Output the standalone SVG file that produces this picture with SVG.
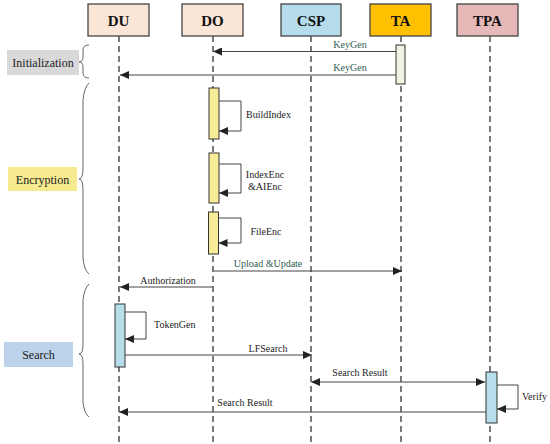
<svg xmlns="http://www.w3.org/2000/svg" width="550" height="444" viewBox="0 0 550 444">
<defs>
<marker id="ah" markerWidth="10" markerHeight="8" refX="9" refY="4" orient="auto" markerUnits="userSpaceOnUse">
<path d="M0,0 L9,4 L0,8 Z" fill="#222"/>
</marker>
<marker id="ahs" markerWidth="10" markerHeight="8" refX="1" refY="4" orient="auto" markerUnits="userSpaceOnUse">
<path d="M9,0 L0,4 L9,8 Z" fill="#222"/>
</marker>
</defs>
<style>
.hd{stroke:#444;stroke-width:1.3}
.ht{font-family:"Liberation Serif",serif;font-weight:bold;font-size:15px;text-anchor:middle;fill:#111}
.life{stroke:#222;stroke-width:1.2;stroke-dasharray:6,4;fill:none}
.msg{stroke:#444;stroke-width:1;fill:none}
.lbl{font-family:"Liberation Serif",serif;font-size:10px;fill:#222}
.glbl{font-family:"Liberation Serif",serif;font-size:10px;fill:#2e5e50;text-anchor:middle}
.sec{font-family:"Liberation Serif",serif;font-size:12px;fill:#222;text-anchor:middle}
.brace{stroke:#666;stroke-width:1;fill:none}
.act{stroke:#333;stroke-width:1}
</style>
<rect width="550" height="444" fill="#fff"/>

<g id="lifelines">
<line class="life" x1="119" y1="36" x2="119" y2="442"/>
<line class="life" x1="213" y1="36" x2="213" y2="442"/>
<line class="life" x1="311" y1="36" x2="311" y2="442"/>
<line class="life" x1="401" y1="36" x2="401" y2="442"/>
<line class="life" x1="490" y1="36" x2="490" y2="442"/>
</g>

<g id="DU"><rect class="hd" x="88" y="4" width="61" height="32" fill="#fbe5d6"/><text class="ht" x="118.5" y="25.5">DU</text></g>
<g id="DO"><rect class="hd" x="182" y="4" width="61" height="32" fill="#fbe5d6"/><text class="ht" x="212.5" y="25.5">DO</text></g>
<g id="CSP"><rect class="hd" x="281" y="4" width="60" height="32" fill="#b4dcea"/><text class="ht" x="311" y="25.5">CSP</text></g>
<g id="TA"><rect class="hd" x="370" y="4" width="61" height="32" fill="#ffc000"/><text class="ht" x="400.5" y="25.5">TA</text></g>
<g id="TPA"><rect class="hd" x="457" y="4" width="61" height="32" fill="#e6b9b8"/><text class="ht" x="487.5" y="25.5">TPA</text></g>

<g id="sections">
<g id="initialization">
<rect x="7" y="50" width="72" height="25" fill="#d9d9d9"/>
<text class="sec" x="43" y="66.5">Initialization</text>
<path class="brace" d="M89,45 Q83,45 83,50 L83,57 Q83,62 79,62 Q83,62 83,67 L83,73 Q83,78 89,78"/>
</g>
<g id="encryption">
<rect x="8" y="167" width="69" height="24" fill="#f6ea8f"/>
<text class="sec" x="42.5" y="183.5">Encryption</text>
<path class="brace" d="M89,83 Q84,88 83,100 L83,168 Q83,179 79,179 Q83,179 83,190 L83,258 Q84,270 89,274"/>
</g>
<g id="search">
<rect x="4" y="342" width="69" height="25" fill="#bcd1ea"/>
<text class="sec" x="38.5" y="358.5">Search</text>
<path class="brace" d="M89,284 Q84,289 83,300 L83,344 Q83,354 79,354 Q83,354 83,364 L83,402 Q84,413 89,417"/>
</g>
</g>

<g id="activations">
<rect class="act" x="396" y="45" width="9" height="39" fill="#eef3e2"/>
<rect class="act" x="209" y="88" width="10" height="51" fill="#f7ec98"/>
<rect class="act" x="209" y="153" width="10" height="50" fill="#f7ec98"/>
<rect class="act" x="208.5" y="212" width="10" height="42" fill="#f7ec98"/>
<rect class="act" x="115" y="304" width="10" height="63" fill="#b7dfeb"/>
<rect class="act" x="486" y="372" width="11" height="51" fill="#b7dfeb"/>
</g>

<g id="connectors">
<line class="msg" x1="396" y1="51.5" x2="213" y2="51.5" marker-end="url(#ah)"/>
<text class="glbl" x="350" y="48">KeyGen</text>
<line class="msg" x1="396" y1="75" x2="120" y2="75" marker-end="url(#ah)"/>
<text class="glbl" x="350" y="71">KeyGen</text>

<path class="msg" d="M219,101 L241,101 L241,131 L219,131" marker-end="url(#ah)"/>
<text class="lbl" x="246" y="118">BuildIndex</text>
<path class="msg" d="M219,164 L241,164 L241,193 L219,193" marker-end="url(#ah)"/>
<text class="lbl" x="265" y="178" text-anchor="middle">IndexEnc</text>
<text class="lbl" x="265" y="190" text-anchor="middle">&amp;AIEnc</text>
<path class="msg" d="M218.5,218 L241,218 L241,243 L218.5,243" marker-end="url(#ah)"/>
<text class="lbl" x="266" y="235" text-anchor="middle">FileEnc</text>

<line class="msg" x1="214" y1="271" x2="402" y2="271" marker-end="url(#ah)"/>
<text class="glbl" x="268" y="267">Upload &amp;Update</text>
<line class="msg" x1="213" y1="287" x2="120" y2="287" marker-end="url(#ah)"/>
<text class="lbl" x="168" y="284" text-anchor="middle">Authorization</text>

<path class="msg" d="M125,312 L146,312 L146,339 L125,339" marker-end="url(#ah)"/>
<text class="lbl" x="154" y="328">TokenGen</text>
<line class="msg" x1="125" y1="355" x2="312" y2="355" marker-end="url(#ah)"/>
<text class="lbl" x="268" y="352" text-anchor="middle">LFSearch</text>

<line class="msg" x1="312" y1="382" x2="485" y2="382" marker-start="url(#ahs)" marker-end="url(#ah)"/>
<text class="lbl" x="360" y="376" text-anchor="middle">Search Result</text>
<path class="msg" d="M497,385 L518,385 L518,409 L497,409" marker-end="url(#ah)"/>
<text class="lbl" x="522" y="400">Verify</text>
<line class="msg" x1="486" y1="412" x2="119" y2="412" marker-end="url(#ah)"/>
<text class="lbl" x="245" y="406" text-anchor="middle">Search Result</text>
</g>
</svg>
